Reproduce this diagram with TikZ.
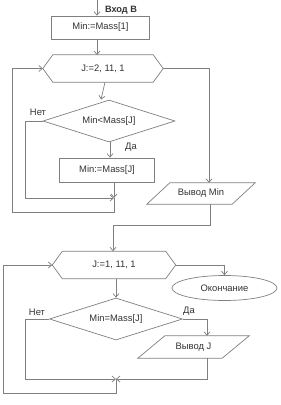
\documentclass[tikz,border=0pt]{standalone}
\usepackage{fontspec}
\setmainfont{Liberation Sans}
\usetikzlibrary{arrows.meta,shapes.geometric,calc}
\definecolor{lncol}{HTML}{808080}
\definecolor{txcol}{HTML}{333333}
\begin{document}
\begin{tikzpicture}[x=1pt,y=-1pt,
  ln/.style={draw=lncol,line width=0.7pt},
  arr/.style={ln,-{Straight Barb[length=3.5pt,width=6pt]}},
  txt/.style={text=txcol,font=\fontsize{9.4}{11}\selectfont,inner sep=0pt},
  procbox/.style={txt,draw=lncol,line width=0.7pt,rectangle},
  inbox/.style={txt,rectangle},
  dia/.style={txt,draw=lncol,line width=0.7pt,diamond,inner sep=0pt},
  term/.style={txt,draw=lncol,line width=0.7pt,ellipse},
  lab/.style={txt}]
\useasboundingbox (0,0) rectangle (281,405);
\fill[white] (0,0) rectangle (281,405);

% top entry
\coordinate (start) at (97,0);
\node[lab,font=\fontsize{9.2}{11}\selectfont\bfseries] (inlab) at (121,10) {Вход В};
\node[procbox,minimum width=98,minimum height=23] (b1) at (100.5,27.5) {Min:=Mass[1]};
\draw[arr] (start) -- (start |- b1.north);

% first loop header
\node[inbox,minimum width=100,minimum height=27] (h1) at (103,68.5) {J:=2, 11, 1};
\draw[ln] (h1.north west) -- (h1.north east) -- ([xshift=10pt]h1.east) coordinate (h1r)
  -- (h1.south east) -- (h1.south west) -- ([xshift=-10pt]h1.west) coordinate (h1l) -- cycle;
\draw[arr] (b1.south -| 97,0) -- (97,55);

% decision 1
\node[dia,minimum width=132,minimum height=42,aspect=3.14] (d1) at (109,121) {Min<Mass[J]};
\draw[arr] ([xshift=2pt]h1.south) -- ([xshift=-4pt]d1.north -| 105,0);
\node[lab] (no1) at (38,112) {Нет};
\node[lab] (yes1) at (131,147) {Да};

% box 2
\node[procbox,minimum width=95,minimum height=24] (b2) at (107,170) {Min:=Mass[J]};
\draw[arr] (d1.south -| 110,0) -- (b2.north -| 110,0);

% inner junction
\coordinate (j1) at (114,198);
\draw[arr] (d1.west) -- (25,121) -- (25,198) -- (j1);
\draw[arr] (b2.south -| j1) -- (j1);
\draw[arr] (j1) -- ++(0,14) -| ([xshift=-30pt]h1l) -- (h1l);

% output Min
\node[inbox,minimum width=85,minimum height=21] (p1) at (201,193.5) {Вывод Min};
\draw[ln] ([xshift=-11.5pt]p1.south west) -- ([xshift=-11.5pt]p1.south east)
  -- ([xshift=11.5pt]p1.north east) -- ([xshift=11.5pt]p1.north west) -- cycle;
\draw[arr] (h1r) -| ([xshift=8pt]p1.north);

% second loop header
\node[inbox,minimum width=103,minimum height=27] (h2) at (114,265) {J:=1, 11, 1};
\draw[ln] (h2.north west) -- (h2.north east) -- ([xshift=10pt]h2.east) coordinate (h2r)
  -- (h2.south east) -- (h2.south west) -- ([xshift=-10pt]h2.west) coordinate (h2l) -- cycle;
\draw[arr] ([xshift=9pt]p1.south) -- ++(0,21) -| ([xshift=-1pt]h2.north);

% end
\node[term,minimum width=105,minimum height=25] (e) at (224.5,288) {Окончание};
\draw[arr] (h2r) -| (e.north);

% decision 2
\node[dia,minimum width=133,minimum height=42,aspect=3.17] (d2) at (116,319) {Min=Mass[J]};
\draw[arr] (h2.south -| d2.north) -- (d2.north);
\node[lab] (no2) at (37,312) {Нет};
\node[lab] (yes2) at (189,311) {Да};

% output J
\node[inbox,minimum width=84,minimum height=22] (p2) at (193.5,347) {Вывод J};
\draw[ln] ([xshift=-13.5pt]p2.south west) -- ([xshift=-13.5pt]p2.south east)
  -- ([xshift=13.5pt]p2.north east) -- ([xshift=13.5pt]p2.north west) -- cycle;
\draw[arr] (d2.east) -| ([xshift=13.5pt]p2.north);

% second junction
\coordinate (j2) at (116,379);
\draw[arr] (d2.west) -- (25,319) -- (25,379) -- (j2);
\draw[arr] ([xshift=13.5pt]p2.south) |- (j2);
\draw[arr] (j2) -- ++(0,14) -| ([xshift=-48.5pt]h2l) -- (h2l);
\end{tikzpicture}
\end{document}
